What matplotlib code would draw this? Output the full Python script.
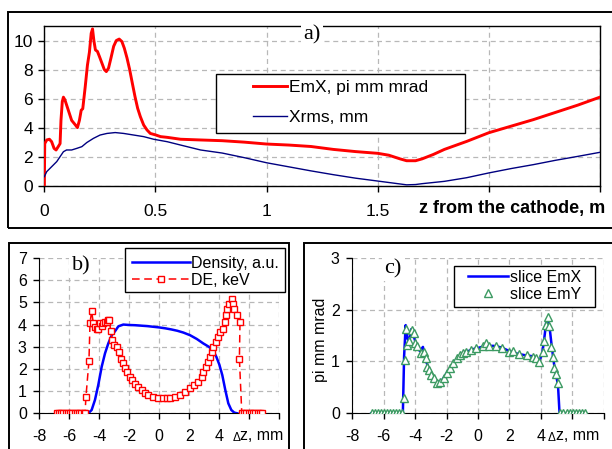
import matplotlib
matplotlib.use("Agg")
import matplotlib.pyplot as plt
from matplotlib.patches import Rectangle

plt.rcParams['font.family'] = ['Liberation Sans', 'DejaVu Sans']
plt.rcParams['axes.unicode_minus'] = False

# ---------------- data: panel a ----------------
z_emx = [0.0, 0.002, 0.011, 0.023, 0.033, 0.044, 0.053, 0.063, 0.071, 0.075, 0.081, 0.086, 0.093,
         0.108, 0.123, 0.139, 0.149, 0.158, 0.166, 0.173, 0.184, 0.194, 0.203, 0.211, 0.217, 0.223,
         0.23, 0.239, 0.248, 0.259, 0.27, 0.279, 0.289, 0.3, 0.312, 0.324, 0.337, 0.349, 0.36, 0.372,
         0.384, 0.396, 0.408, 0.42, 0.432, 0.447, 0.462, 0.477, 0.5, 0.523, 0.553, 0.613, 0.703,
         0.8, 0.9, 1.0, 1.1, 1.2, 1.3, 1.4, 1.5, 1.55, 1.6, 1.63, 1.67, 1.7, 1.75, 1.8, 1.9, 2.0,
         2.1, 2.2, 2.3, 2.4, 2.5]
emx = [0.0, 2.9, 3.15, 3.2, 3.03, 2.57, 2.46, 2.7, 2.9, 4.5, 5.8, 6.1, 5.9,
       5.2, 4.5, 4.2, 4.0, 4.5, 5.2, 5.3, 6.8, 8.3, 9.2, 10.5, 10.8, 10.0,
       9.35, 9.25, 8.9, 8.45, 8.0, 7.86, 8.1, 8.8, 9.6, 10.0, 10.1, 9.93, 9.47, 8.8,
       8.0, 7.06, 6.14, 5.33, 4.76, 4.18, 3.84, 3.6, 3.5, 3.38, 3.33, 3.2, 3.15,
       3.1, 3.0, 2.87, 2.8, 2.7, 2.5, 2.35, 2.23, 2.1, 1.85, 1.72, 1.72, 1.85, 2.15, 2.5, 3.05, 3.65,
       4.1, 4.55, 5.05, 5.55, 6.1]

z_xrms = [0.0, 0.011, 0.026, 0.041, 0.056, 0.071, 0.086, 0.1, 0.123, 0.146, 0.169, 0.191, 0.221,
          0.251, 0.282, 0.319, 0.357, 0.402, 0.447, 0.492, 0.553, 0.613, 0.703, 0.8, 0.9, 1.0,
          1.1, 1.2, 1.3, 1.4, 1.5, 1.55, 1.6, 1.63, 1.67, 1.7, 1.8, 1.9, 2.0, 2.1, 2.2, 2.3, 2.4, 2.5]
xrms = [0.62, 0.97, 1.2, 1.43, 1.66, 2.0, 2.34, 2.46, 2.46, 2.57, 2.69, 2.97, 3.26,
        3.49, 3.6, 3.66, 3.6, 3.49, 3.38, 3.2, 3.03, 2.8, 2.46, 2.25, 1.93, 1.58,
        1.3, 1.02, 0.76, 0.52, 0.32, 0.22, 0.12, 0.06, 0.08, 0.14, 0.3, 0.55, 0.88, 1.18, 1.45,
        1.75, 2.02, 2.3]

a_xticks = [0, 0.5, 1, 1.5, 2, 2.5]
a_xticklabels = ['0', '0.5', '1', '1.5', '', '']
a_yticks = [0, 2, 4, 6, 8, 10]

# ---------------- data: panel b ----------------
dz_dens = [-5.0, -4.73, -4.51, -4.29, -4.07, -3.84, -3.62, -3.4, -3.17, -2.95, -2.73, -2.4, -2.0,
           -1.6, -1.2, -0.8, -0.4, 0.0, 0.4, 0.8, 1.2, 1.6, 2.05, 2.5, 2.93, 3.3, 3.6, 3.8, 4.0,
           4.2, 4.4, 4.6, 4.8, 5.0, 5.2]
dens = [0.0, 0.0, 0.15, 0.6, 1.27, 2.1, 2.7, 3.15, 3.52, 3.7, 3.92, 4.0, 3.98,
        3.97, 3.95, 3.93, 3.9, 3.87, 3.83, 3.78, 3.72, 3.64, 3.52, 3.35, 3.15, 3.0, 2.82, 2.55, 2.2,
        1.72, 1.05, 0.45, 0.15, 0.03, 0.0]

dz_de = [-6.85, -6.7, -6.55, -6.4, -6.25, -6.1, -5.95, -5.8, -5.65, -5.5, -5.35, -5.2, -5.05, -4.95,
         -4.89, -4.69, -4.62, -4.51, -4.4, -4.29, -4.18, -4.07, -3.96, -3.85, -3.73, -3.62, -3.51,
         -3.42, -3.33, -3.24, -3.13, -3.0, -2.84, -2.67, -2.57, -2.44, -2.29, -2.18, -1.95, -1.84,
         -1.62, -1.4, -1.18, -0.95, -0.73, -0.4, -0.07, 0.27, 0.5, 0.71, 1.05, 1.38, 1.71, 2.05,
         2.31, 2.6, 2.82, 2.93, 3.11, 3.27, 3.38, 3.49, 3.6, 3.78, 3.93, 4.05, 4.22, 4.38, 4.45,
         4.49, 4.65, 4.83, 4.94, 5.0, 5.16, 5.38, 5.34, 5.5, 5.65, 5.8, 5.95, 6.1, 6.25, 6.4, 6.55,
         6.7, 6.83]
de = [0, 0, 0, 0, 0, 0, 0, 0, 0, 0, 0, 0, 0, 0,
      0.75, 2.35, 4.07, 4.61, 4.05, 3.9, 3.8, 3.82, 4.05, 3.95, 4.05, 4.1, 4.12,
      4.2, 4.2, 3.72, 3.3, 3.1, 3.0, 2.77, 2.47, 2.25, 2.02, 1.87, 1.65, 1.5,
      1.32, 1.17, 1.05, 0.93, 0.82, 0.72, 0.67, 0.67, 0.67, 0.67, 0.72, 0.82, 0.97, 1.12,
      1.27, 1.42, 1.65, 1.87, 2.1, 2.32, 2.55, 2.77, 3.0, 3.22, 3.45, 3.67, 3.82, 4.12, 4.42,
      4.72, 4.92, 5.13, 4.92, 4.68, 4.42, 4.12, 2.47, 0, 0, 0, 0, 0, 0, 0, 0,
      0, 0]

# ---------------- data: panel c ----------------
dz_emy = [-6.75, -6.56, -6.37, -6.18, -5.99, -5.8, -5.61, -5.42, -5.23, -5.04, -4.85,
          -4.72, -4.67, -4.57, -4.52, -4.4, -4.2, -4.1, -4.02, -3.85, -3.65, -3.44, -3.33, -3.27,
          -3.12, -2.98, -2.81, -2.6, -2.4, -2.19, -1.98, -1.77, -1.56, -1.35, -1.15, -0.94, -0.73,
          -0.42, -0.1, 0.31, 0.49, 0.73, 1.15, 1.56, 1.98, 2.26, 2.6, 3.1, 3.53, 3.7, 3.91, 4.13,
          4.23, 4.34, 4.45, 4.55, 4.66, 4.77, 4.87, 4.98, 5.09,
          5.25, 5.45, 5.65, 5.85, 6.05, 6.25, 6.45, 6.65, 6.85]
emy = [0, 0, 0, 0, 0, 0, 0, 0, 0, 0, 0,
       0.29, 1.03, 1.62, 1.32, 1.4, 1.61, 1.55, 1.35, 1.29, 1.16, 1.19, 1.06, 0.9,
       0.84, 0.74, 0.68, 0.58, 0.61, 0.68, 0.77, 0.87, 0.97, 1.06, 1.13, 1.16, 1.19,
       1.23, 1.26, 1.29, 1.35, 1.3, 1.29, 1.26, 1.19, 1.2, 1.15, 1.12, 1.09, 1.06, 0.99, 1.18,
       1.4, 1.71, 1.86, 1.68, 1.27, 1.09, 0.87, 0.75, 0.59,
       0, 0, 0, 0, 0, 0, 0, 0, 0]

dz_emxs = [-6.8, -4.78, -4.7, -4.6, -4.5, -4.4, -4.25, -4.1, -3.9, -3.7, -3.5, -3.3, -3.1, -2.9,
           -2.6, -2.3, -2.0, -1.6, -1.2, -0.8, -0.4, 0.0, 0.5, 1.0, 1.5, 2.0, 2.5, 3.0, 3.5, 3.9,
           4.1, 4.25, 4.35, 4.45, 4.55, 4.7, 4.85, 5.0, 5.1, 5.2, 6.8]
emxs = [0, 0, 1.1, 1.7, 1.45, 1.38, 1.62, 1.5, 1.3, 1.2, 1.28, 1.0, 0.85, 0.72,
        0.6, 0.63, 0.77, 0.95, 1.1, 1.17, 1.23, 1.26, 1.3, 1.3, 1.27, 1.2, 1.15, 1.12, 1.1, 1.0,
        1.15, 1.5, 1.75, 1.8, 1.7, 1.3, 0.95, 0.7, 0.55, 0, 0]

bc_xticks = [-8, -6, -4, -2, 0, 2, 4, 6, 8]
bc_xticklabels = ['-8', '-6', '-4', '-2', '0', '2', '4', '', '']
b_yticks = [0, 1, 2, 3, 4, 5, 6, 7]
c_yticks = [0, 1, 2, 3]

# ---------------- figure ----------------
W, H = 612, 449
fig = plt.figure(figsize=(W / 100, H / 100), dpi=100)


def fx(px):
    return px / W


def fy(py):
    return 1 - py / H


def box(x0, y0, x1, y1, **kw):
    return Rectangle((fx(x0), fy(y1)), fx(x1) - fx(x0), fy(y0) - fy(y1),
                     transform=fig.transFigure, **kw)


# outer panel frames
for (x0, y0, x1, y1) in [(8.3, 11.7, 616, 228.3), (9, 243, 289, 453), (304, 243, 616, 453)]:
    fig.add_artist(box(x0, y0, x1, y1, fill=False, edgecolor='black', linewidth=1.4, zorder=1))

GRID = dict(color='#b8b8b8', linestyle=(0, (4, 3)), linewidth=0.9)

# ---------------- panel a ----------------
ax = fig.add_axes([fx(44.3), fy(185.7), fx(600) - fx(44.3), fy(26) - fy(185.7)])
ax.plot(z_emx, emx, color='#ff0000', lw=2.1, label='EmX, pi mm mrad', zorder=3)
ax.plot(z_xrms, xrms, color='#000080', lw=1.0, label='Xrms, mm', zorder=3)
ax.set_xlim(0, 2.5)
ax.set_ylim(0, 11)
ax.set_xticks(a_xticks)
ax.set_xticklabels(a_xticklabels)
ax.set_yticks(a_yticks)
ax.set_axisbelow(True)
ax.grid(True, **GRID)
for s in ax.spines.values():
    s.set_linewidth(1.0)
ax.tick_params(axis='both', direction='out', length=4, width=1, labelsize=12.5)
ax.tick_params(axis='x', pad=9)
ax.tick_params(axis='y', pad=4)
ax.add_patch(box(216, 74, 465, 133.3, facecolor='white', edgecolor='black', lw=1.0,
                 zorder=4.5, clip_on=False))
ax.legend(loc='upper left', bbox_to_anchor=(fx(253), fy(80)), bbox_transform=fig.transFigure,
          frameon=False, fontsize=12.5, handlelength=1.96, handletextpad=0.12,
          labelspacing=0.84, borderpad=0, borderaxespad=0)
fig.text(fx(312), fy(35), 'a)', family=['Liberation Serif'], fontsize=16, ha='center',
         va='center', bbox=dict(facecolor='white', edgecolor='none', pad=1.5), zorder=5)
fig.text(fx(419), fy(209), 'z from the cathode, m', fontsize=13, weight='bold', ha='left',
         va='center', bbox=dict(facecolor='white', edgecolor='none', pad=1), zorder=5)

# ---------------- panel b ----------------
bx = fig.add_axes([fx(39.3), fy(413.3), fx(279.3) - fx(39.3), fy(258) - fy(413.3)])
bx.plot(dz_dens, dens, color='#0000ff', lw=1.8, label='Density, a.u.', zorder=3)
bx.plot(dz_de, de, color='#ff0000', lw=1.1, linestyle=(0, (5, 3)), marker='s', markersize=5,
        markerfacecolor='white', markeredgecolor='#ff0000', markeredgewidth=1.0,
        label='DE, keV', zorder=4)
bx.set_xlim(-8, 8)
bx.set_ylim(0, 7)
bx.set_xticks(bc_xticks)
bx.set_xticklabels(bc_xticklabels)
bx.set_yticks(b_yticks)
bx.set_axisbelow(True)
bx.grid(True, **GRID)
bx.spines['top'].set_visible(False)
bx.spines['right'].set_visible(False)
bx.tick_params(axis='both', direction='out', length=4, width=1, labelsize=11.5)
bx.tick_params(axis='x', pad=7)
bx.tick_params(axis='y', pad=5)
bx.add_patch(box(125, 248.3, 285, 291.7, facecolor='white', edgecolor='black', lw=1.0,
                 zorder=4.5, clip_on=False))
bx.legend(loc='upper left', bbox_to_anchor=(fx(132), fy(256)), bbox_transform=fig.transFigure,
          frameon=False, fontsize=11.5, handlelength=3.6, handletextpad=0.08,
          labelspacing=0.1, borderpad=0, borderaxespad=0)
fig.text(fx(81), fy(266), 'b)', family=['Liberation Serif'], fontsize=16, ha='center',
         va='center', bbox=dict(facecolor='white', edgecolor='none', pad=2), zorder=5)
fig.text(fx(233), fy(438), 'Δ', fontsize=8.5, ha='left', va='center')
fig.text(fx(240), fy(436), 'z, mm', fontsize=11.5, ha='left', va='center')

# ---------------- panel c ----------------
cx = fig.add_axes([fx(352.3), fy(413.3), fx(603.5) - fx(352.3), fy(257.7) - fy(413.3)])
cx.plot(dz_emxs, emxs, color='#0000ff', lw=1.8, label='slice EmX', zorder=3)
cx.plot(dz_emy, emy, linestyle='none', marker='^', markersize=6, markerfacecolor='white',
        markeredgecolor='#3c9a62', markeredgewidth=1.0, label='slice EmY', zorder=4)
cx.set_xlim(-8, 8)
cx.set_ylim(0, 3)
cx.set_xticks(bc_xticks)
cx.set_xticklabels(bc_xticklabels)
cx.set_yticks(c_yticks)
cx.set_axisbelow(True)
cx.grid(True, **GRID)
cx.spines['top'].set_visible(False)
cx.spines['right'].set_visible(False)
cx.tick_params(axis='both', direction='out', length=4, width=1, labelsize=11.5)
cx.tick_params(axis='x', pad=7)
cx.tick_params(axis='y', pad=5)
cx.add_patch(box(454, 266, 595, 307, facecolor='white', edgecolor='black', lw=1.0,
                 zorder=4.5, clip_on=False))
cx.legend(loc='upper left', bbox_to_anchor=(fx(468), fy(270)), bbox_transform=fig.transFigure,
          frameon=False, fontsize=11.5, handlelength=2.5, handletextpad=0.12,
          labelspacing=0.1, borderpad=0, borderaxespad=0)
fig.text(fx(393), fy(269), 'c)', family=['Liberation Serif'], fontsize=16, ha='center',
         va='center', bbox=dict(facecolor='white', edgecolor='none', pad=2), zorder=5)
fig.text(fx(320), fy(340), 'pi mm mrad', fontsize=11.5, rotation=90, ha='center', va='center')
fig.text(fx(548), fy(438), 'Δ', fontsize=8.5, ha='left', va='center')
fig.text(fx(556), fy(436), 'z, mm', fontsize=11.5, ha='left', va='center')

fig.savefig('out.png', dpi=100)
